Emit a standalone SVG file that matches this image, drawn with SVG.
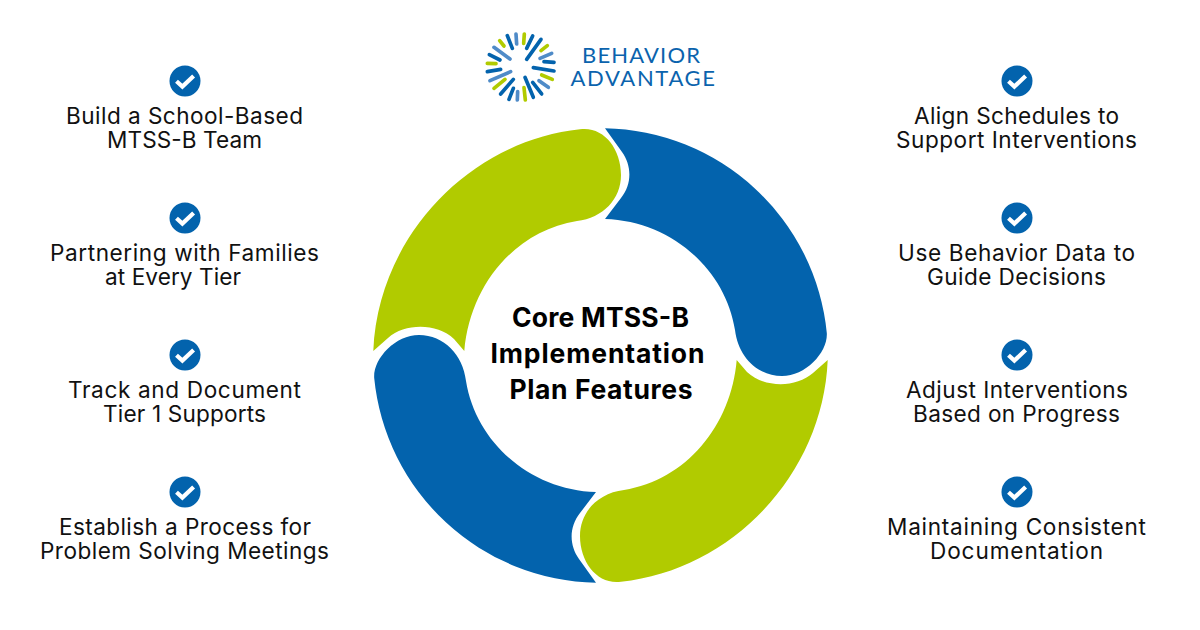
<svg xmlns="http://www.w3.org/2000/svg" width="1200" height="630" viewBox="0 0 1200 630">
<style>
text{font-family:"Inter","Liberation Sans",sans-serif;fill:#111}
.t{font-size:22.6px;text-anchor:middle}
.h{font-size:26.5px;font-weight:700;text-anchor:middle;fill:#000}
.l{font-family:"Lato","Liberation Sans",sans-serif;font-size:22px;fill:#0b63ad}
.b{fill:#0363ad}.g{fill:#b1cb00}
.d{fill:none;stroke-width:11;stroke-linecap:round}
</style>
<defs>
<g id="chk"><circle r="15.5" fill="#0363ad"/><path d="M-8.5,0.2L-2.6,5.6L8.6,-5" fill="none" stroke="#fff" stroke-width="4.2"/></g>
<path id="bseg" d="M605,128.3A227,227 0 0 1 826.8,333C828,352 806,376 782,376C757,376 738,356 735,330C725,268 670,221 605,219L621,198C632,184 632,166 622,152Z"/>
<path id="gseg" d="M580,129.3C603,126 621,148 621,175C621,199 603,218 577,221C515,231 470,285 464.3,351L454,339C437,323 405,323 388,338L373.3,351C378,236 470,141 580,129.3Z"/>
</defs>
<g id="connectors"/>
<g id="logo">
<g transform="translate(470 20) scale(.3333)">
<g class="d" stroke="#b1cb00"><line x1="163" y1="42" x2="161" y2="70"/><line x1="89" y1="62" x2="102" y2="78"/><line x1="52" y1="130" x2="78" y2="131"/><line x1="72" y1="205" x2="105" y2="178"/><line x1="166" y1="240" x2="162" y2="203"/><line x1="247" y1="178" x2="215" y2="165"/><line x1="232" y1="77" x2="213" y2="92"/></g>
<g class="d" stroke="#0363ad"><line x1="112" y1="47" x2="127" y2="85"/><line x1="58" y1="104" x2="90" y2="120"/><line x1="52" y1="155" x2="92" y2="148"/><line x1="92" y1="222" x2="130" y2="178"/><line x1="117" y1="238" x2="130" y2="205"/><line x1="190" y1="232" x2="165" y2="172"/><line x1="215" y1="222" x2="188" y2="187"/><line x1="252" y1="153" x2="190" y2="143"/><line x1="252" y1="127" x2="222" y2="125"/><line x1="213" y1="58" x2="170" y2="118"/><line x1="188" y1="48" x2="170" y2="85"/></g>
<g class="d" stroke="#4f8bc8"><line x1="138" y1="42" x2="140" y2="72"/><line x1="72" y1="82" x2="120" y2="117"/><line x1="60" y1="182" x2="122" y2="155"/><line x1="142" y1="240" x2="143" y2="215"/><line x1="235" y1="202" x2="207" y2="182"/><line x1="245" y1="100" x2="210" y2="115"/></g>
</g>
<text class="l" x="582" y="62.5" textLength="118">BEHAVIOR</text>
<text class="l" x="570.5" y="86" textLength="144.5">ADVANTAGE</text>
</g>
<g id="ring">
<use href="#bseg" class="b"/>
<use href="#gseg" class="g"/>
<use href="#gseg" class="g" transform="rotate(180 600.5 355.5)"/>
<use href="#bseg" class="b" transform="rotate(180 600.5 355.5)"/>
</g>
<g id="center"><text class="h" x="600.5" y="327" textLength="177">Core MTSS-B</text><text class="h" x="597.5" y="363" textLength="214">Implementation</text><text class="h" x="601" y="399" textLength="183">Plan Features</text></g>
<g id="n1"><use href="#chk" x="185" y="81"/><text class="t" x="184.5" y="123.5" textLength="237">Build a School-Based</text><text class="t" x="184.5" y="147.5" textLength="155">MTSS-B Team</text></g>
<g id="n2"><use href="#chk" x="185" y="218"/><text class="t" x="184.5" y="260.5" textLength="269">Partnering with Families</text><text class="t" x="173" y="284.5" textLength="136">at Every Tier</text></g>
<g id="n3"><use href="#chk" x="185" y="355"/><text class="t" x="184.5" y="397.5" textLength="233">Track and Document</text><text class="t" x="184.5" y="421.5" textLength="163">Tier 1 Supports</text></g>
<g id="n4"><use href="#chk" x="185" y="492"/><text class="t" x="185" y="534.5" textLength="252">Establish a Process for</text><text class="t" x="184.5" y="558.5" textLength="289">Problem Solving Meetings</text></g>
<g id="n5"><use href="#chk" x="1017" y="81"/><text class="t" x="1016.5" y="123.5" textLength="205">Align Schedules to</text><text class="t" x="1016.5" y="147.5" textLength="241">Support Interventions</text></g>
<g id="n6"><use href="#chk" x="1017" y="218"/><text class="t" x="1016.5" y="260.5" textLength="237">Use Behavior Data to</text><text class="t" x="1016.5" y="284.5" textLength="179">Guide Decisions</text></g>
<g id="n7"><use href="#chk" x="1017" y="355"/><text class="t" x="1017" y="397.5" textLength="222">Adjust Interventions</text><text class="t" x="1016.5" y="421.5" textLength="207">Based on Progress</text></g>
<g id="n8"><use href="#chk" x="1017" y="492"/><text class="t" x="1016.5" y="534.5" textLength="259">Maintaining Consistent</text><text class="t" x="1016.5" y="558.5" textLength="173">Documentation</text></g>
</svg>
